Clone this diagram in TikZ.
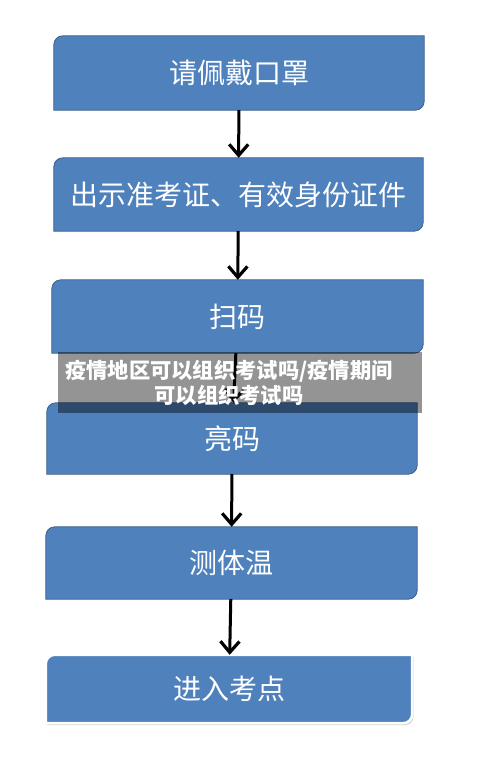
\documentclass[tikz,border=0pt]{standalone}
\usepackage{fontspec}
\newfontfamily\cjk{Noto Sans CJK SC}
\usetikzlibrary{arrows.meta,backgrounds,shadows}
\definecolor{boxblue}{HTML}{4F81BD}
\definecolor{boxline}{HTML}{3A5F8B}
\newcommand\boxshape[2][]{%
  \path[#1] (#2.south west) -- ([yshift=-9pt]#2.north west)
    arc[start angle=180,end angle=90,radius=9pt] -- (#2.north east)
    -- ([yshift=9pt]#2.south east)
    arc[start angle=0,end angle=-90,radius=9pt] -- cycle;}

\begin{document}
\begin{tikzpicture}[x=1pt,y=-1pt,
	stepbox/.style={inner sep=0pt,text=white,font=\cjk\fontsize{28pt}{32pt}\selectfont},
	flow/.style={line width=3pt,-{Straight Barb[length=11pt,width=19pt,line width=3.2pt]}}]
	\useasboundingbox (0,0) rectangle (481,763);
	\node[stepbox,minimum width=370pt,minimum height=74pt] (s1) at (239,73) {请佩戴口罩};
	\node[stepbox,minimum width=369pt,minimum height=73pt] (s2) at (238.5,194.5) {出示准考证、有效身份证件};
	\node[stepbox,minimum width=371pt,minimum height=73pt] (s3) at (237.5,316.5) {扫码};
	\node[stepbox,minimum width=370pt,minimum height=71pt] (s4) at (232,438.5) {亮码};
	\node[stepbox,minimum width=371pt,minimum height=72pt] (s5) at (231.5,563) {测体温};
	\node[stepbox,minimum width=366pt,minimum height=68pt] (s6) at (229,689) {进入考点};
	
	\begin{pgfonlayer}{background}
		\boxshape[fill=boxblue,draw=boxline,line width=0.8pt]{s1}
		\boxshape[fill=boxblue,draw=boxline,line width=0.8pt]{s2}
		\boxshape[fill=boxblue,draw=boxline,line width=0.8pt]{s3}
		\boxshape[fill=boxblue,draw=boxline,line width=0.8pt]{s4}
		\boxshape[fill=boxblue,draw=boxline,line width=0.8pt]{s5}
		\boxshape[fill=boxblue,draw=white,line width=2.5pt,
			drop shadow={shadow xshift=1.5pt,shadow yshift=-2pt,opacity=0.35}]{s6}
	\end{pgfonlayer}
	
	\draw[flow] (s1) -- (s2);
	\draw[flow] (s2) -- (s3);
	\draw[flow] (s3) -- (s4);
	\draw[flow] (s4) -- (s5);
	\draw[flow] (s5) -- (s6);
	
	\node[minimum width=364pt,minimum height=61pt,inner sep=0pt,fill=black,fill opacity=0.42] (band) at (240,382.5) {};
	\node[text=white,align=center,inner sep=0pt,font=\cjk\bfseries\fontsize{21.3pt}{25pt}\selectfont] (mark) at (band.center) [xshift=-11pt] {疫情地区可以组织考试吗/疫情期间\\可以组织考试吗};
\end{tikzpicture}
\end{document}
